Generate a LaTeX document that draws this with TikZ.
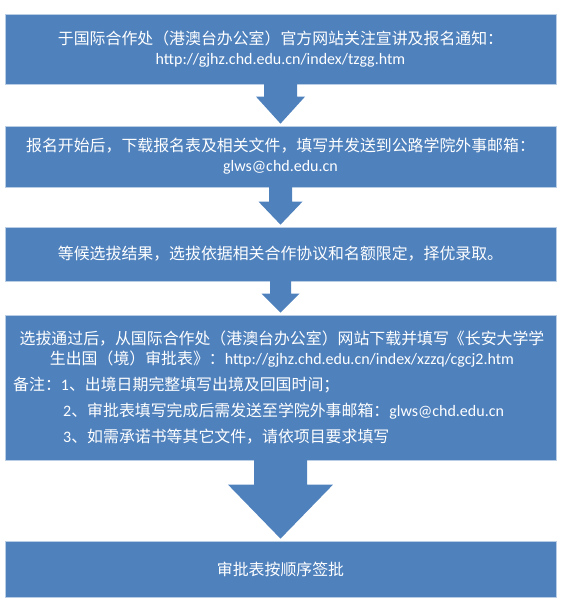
\documentclass[tikz,border=0pt]{standalone}
\usepackage{fontspec}
\setmainfont{Carlito}
\newfontfamily\cjk{Noto Sans CJK SC}
\usetikzlibrary{calc}
\definecolor{boxblue}{HTML}{4F81BD}
\definecolor{boxedge}{HTML}{B9CDE5}
\newcommand\zh[1]{{\cjk\fontsize{15.9}{20}\selectfont #1}}
\newcommand\blkarrow[5]{%
  \fill[arrowfill] let \p1=(#1.south), \p2=(#2.north) in
  (\x1-#3,\y1+1pt) -- (\x1+#3,\y1+1pt) -- (\x1+#3,\y2+#5) -- (\x1+#4,\y2+#5)
  -- (\x1,\y2+2pt) -- (\x1-#4,\y2+#5) -- (\x1-#3,\y2+#5) -- cycle;}
\begin{document}
\begin{tikzpicture}[x=1pt,y=-1pt,
  box/.style={fill=boxblue, draw=boxedge, line width=0.7pt, minimum width=551pt,
    inner sep=0pt, text=white, align=center, font=\fontsize{16}{20}\selectfont},
  arrowfill/.style={fill=boxblue},
  txt/.style={text=white, inner sep=0pt, font=\fontsize{16}{20}\selectfont}]
\useasboundingbox (0,0) rectangle (561,613);
\node[box, minimum height=70pt] (b1) at (280.5,49)
  {\zh{于国际合作处（港澳台办公室）官方网站关注宣讲及报名通知：}\\http://gjhz.chd.edu.cn/index/tzgg.htm};
\node[box, minimum height=61pt] (b2) at (280.5,156.5)
  {\zh{报名开始后，下载报名表及相关文件，填写并发送到公路学院外事邮箱：}\\glws@chd.edu.cn};
\node[box, minimum height=54pt] (b3) at (280.5,254)
  {\zh{等候选拔结果，选拔依据相关合作协议和名额限定，择优录取。}};
\node[box, minimum height=145pt] (b4) at (280.5,387.5) {};
\node[box, minimum height=56pt] (b5) at (280.5,569) {\zh{审批表按顺序签批}};
\node[txt] (l1) at (282,339) {\zh{选拔通过后，从国际合作处（港澳台办公室）网站下载并填写《长安大学学}};
\node[txt] (l2) at (282,359) {\zh{生出国（境）审批表》：}http://gjhz.chd.edu.cn/index/xzzq/cgcj2.htm};
\node[txt, anchor=west] (n1) at (13,385) {\zh{备注：}1\zh{、出境日期完整填写出境及回国时间；}};
\node[txt, anchor=west] (n2) at (63,411) {2\zh{、审批表填写完成后需发送至学院外事邮箱：}glws@chd.edu.cn};
\node[txt, anchor=west] (n3) at (63,437) {3\zh{、如需承诺书等其它文件，请依项目要求填写}};
\blkarrow{b1}{b2}{16.5pt}{24.5pt}{29pt}
\blkarrow{b2}{b3}{11.5pt}{22pt}{25pt}
\blkarrow{b3}{b4}{10.5pt}{19pt}{21pt}
\blkarrow{b4}{b5}{26.5pt}{52.5pt}{56pt}
\end{tikzpicture}
\end{document}
